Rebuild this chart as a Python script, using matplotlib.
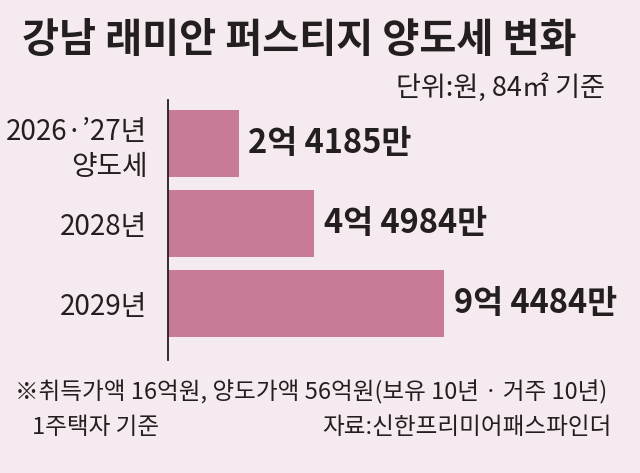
import matplotlib.pyplot as plt

plt.rcParams['font.family'] = ['Noto Sans CJK KR', 'DejaVu Sans']

# 양도세 (만원 단위)
periods = ['2026·’27년\n양도세', '2028년', '2029년']
tax = [24185, 49984, 94484]
tax_labels = ['2억 4185만', '4억 4984만', '9억 4484만']

bg = '#f5eaef'
bar_color = '#c87b99'
ink = '#231f20'

fig = plt.figure(figsize=(6.4, 4.73), dpi=100, facecolor=bg)
ax = fig.add_axes([168 / 640, 1 - 360 / 473, 462 / 640, 260 / 473])
ax.set_facecolor(bg)

pos = list(range(len(periods)))
ax.barh(pos, tax, height=0.84, color=bar_color)
for p, v, lab in zip(pos, tax, tax_labels):
    ax.annotate(lab, (v, p), xytext=(7, 0), textcoords='offset points',
                ha='left', va='center', fontsize=23.5, fontweight='bold', color=ink)

ax.set_xlim(0, 158000)
ax.set_ylim(2.706, -0.544)
ax.set_yticks(pos, periods)
ax.set_xticks([])
ax.tick_params(axis='y', length=0, pad=15, labelsize=20, labelcolor=ink)
for s in ['top', 'right', 'bottom']:
    ax.spines[s].set_visible(False)
ax.spines['left'].set_color(ink)
ax.spines['left'].set_linewidth(1.3)

fig.text(22 / 640, 1 - 40 / 473, '강남 래미안 퍼스티지 양도세 변화',
         ha='left', va='center', fontsize=29, fontweight='bold', color=ink)
fig.text(605 / 640, 1 - 88 / 473, '단위:원, 84㎡ 기준',
         ha='right', va='center', fontsize=19.5, color=ink)
fig.text(15 / 640, 1 - 392 / 473, '※취득가액 16억원, 양도가액 56억원(보유 10년 · 거주 10년)',
         ha='left', va='center', fontsize=17, color=ink)
fig.text(32 / 640, 1 - 427 / 473, '1주택자 기준',
         ha='left', va='center', fontsize=17, color=ink)
fig.text(612 / 640, 1 - 427 / 473, '자료:신한프리미어패스파인더',
         ha='right', va='center', fontsize=17, color=ink)

fig.savefig('out.png', dpi=100, facecolor=bg)
